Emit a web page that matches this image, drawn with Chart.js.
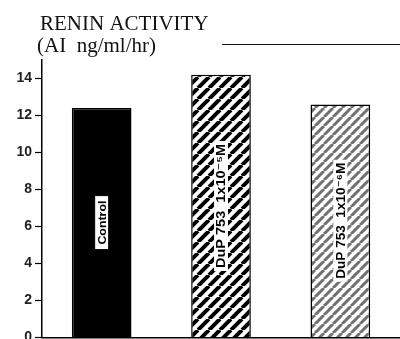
<!DOCTYPE html>
<html>
<head>
<meta charset="utf-8">
<script src="https://cdn.jsdelivr.net/npm/chart.js@4.4.1/dist/chart.umd.min.js"></script>
<style>
  html, body { margin: 0; padding: 0; background: #fff; overflow: hidden; }
  #wrap { width: 400px; height: 339px; overflow: hidden; }
</style>
</head>
<body>
<div id="wrap"><canvas id="barChart" width="400" height="349"></canvas></div>
<script>
// values
var groups = ['Control', 'DuP 753  1x10\u207B\u2075M', 'DuP 753  1x10\u207B\u2076M'];
var renin = [12.4, 14.2, 12.6];
var yTicks = [0, 2, 4, 6, 8, 10, 12, 14];
var titleLines = ['RENIN ACTIVITY', '(AI  ng/ml/hr)'];

function hatch(color, lw, size) {
    var c = document.createElement('canvas');
    c.width = size; c.height = size;
    var g = c.getContext('2d');
    g.fillStyle = '#fff';
    g.fillRect(0, 0, size, size);
    g.strokeStyle = color;
    g.lineWidth = lw;
    g.beginPath();
    for (var k = -1; k <= 1; k++) {
        g.moveTo(k * size, size);
        g.lineTo(k * size + size, 0);
    }
    g.stroke();
    return g.createPattern(c, 'repeat');
}

var fills = ['#000', hatch('#000', 4, 11), hatch('#707070', 3, 9)];

// title text + rule line at top
var titlePlugin = {
    id: 'titleText',
    afterDraw: function (chart) {
        var ctx = chart.ctx;
        ctx.save();
        ctx.fillStyle = '#111';
        ctx.font = '21px "Liberation Serif", "DejaVu Serif", serif';
        ctx.textBaseline = 'alphabetic';
        ctx.fillText(titleLines[0], 40, 30);
        ctx.fillText(titleLines[1], 37, 52);
        ctx.strokeStyle = '#111';
        ctx.lineWidth = 1;
        ctx.beginPath();
        ctx.moveTo(222, 44.5);
        ctx.lineTo(400, 44.5);
        ctx.stroke();
        ctx.restore();
    }
};

// rotated labels inside the bars
var barLabels = {
    id: 'barLabels',
    afterDatasetsDraw: function (chart) {
        var ctx = chart.ctx;
        var meta = chart.getDatasetMeta(0);
        meta.data.forEach(function (bar, i) {
            var cy = (bar.y + bar.base) / 2;
            var txt = groups[i];
            ctx.save();
            ctx.translate(bar.x, cy);
            ctx.rotate(-Math.PI / 2);
            ctx.textAlign = 'center';
            ctx.textBaseline = 'middle';
            if (i === 0) {
                ctx.font = 'bold 11px "Liberation Sans", "DejaVu Sans", sans-serif';
                ctx.fillStyle = '#fff';
                ctx.fillRect(-27, -7, 54, 14);
                ctx.strokeStyle = '#000';
                ctx.lineWidth = 1;
                ctx.strokeRect(-27, -7, 54, 14);
                var w = ctx.measureText(txt).width;
                ctx.scale(44 / w, 1);
                ctx.fillStyle = '#000';
                ctx.fillText(txt, 0, 1);
            } else {
                ctx.font = 'bold 12px "Liberation Sans", "DejaVu Sans", sans-serif';
                var target = i === 1 ? 124 : 116;
                var tw = ctx.measureText(txt).width;
                ctx.fillStyle = '#fff';
                ctx.fillRect(-target / 2 - 3, -7, target + 6, 14);
                ctx.scale(target / tw, 1);
                ctx.fillStyle = '#000';
                ctx.fillText(txt, 0, 1);
            }
            ctx.restore();
        });
    }
};

var ctx = document.getElementById('barChart').getContext('2d');
var barChart = new Chart(ctx, {
    type: 'bar',
    data: {
        labels: groups,
        datasets: [{
            data: renin,
            backgroundColor: fills,
            borderColor: '#000',
            borderWidth: 1.5,
            borderSkipped: 'bottom',
            barPercentage: 0.5,
            categoryPercentage: 1.0
        }]
    },
    options: {
        responsive: false,
        animation: false,
        layout: { padding: { top: 60, bottom: 0, left: 0, right: 0 } },
        plugins: {
            legend: { display: false },
            title: { display: false },
            tooltip: { enabled: false }
        },
        scales: {
            x: {
                grid: { display: false },
                border: { display: true, color: '#000', width: 1.5 },
                ticks: { display: false },
                afterFit: function (scale) { scale.height = 0; }
            },
            y: {
                min: 0,
                max: 15,
                afterBuildTicks: function (scale) {
                    scale.ticks = yTicks.map(function (v) { return { value: v }; });
                },
                grid: {
                    drawOnChartArea: false,
                    drawTicks: true,
                    tickLength: 7,
                    tickWidth: 1.2,
                    color: '#000'
                },
                border: { display: true, color: '#000', width: 1.5 },
                ticks: {
                    color: '#222',
                    padding: 3,
                    font: { family: '"Liberation Sans", "DejaVu Sans", sans-serif', size: 14, weight: 'bold' }
                },
                afterFit: function (scale) { scale.width = 42; }
            }
        }
    },
    plugins: [titlePlugin, barLabels]
});
</script>
</body>
</html>
